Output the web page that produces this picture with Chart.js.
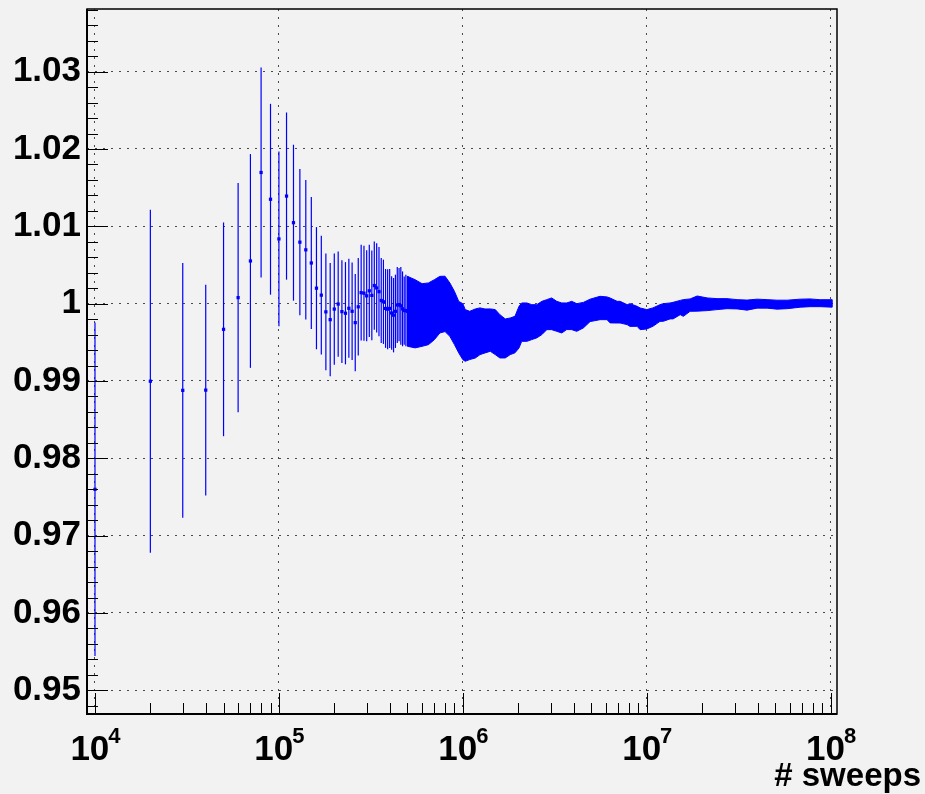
<!DOCTYPE html>
<html><head><meta charset="utf-8">
<script src="https://cdn.jsdelivr.net/npm/chart.js@4.4.0/dist/chart.umd.min.js"></script>
<style>html,body{margin:0;padding:0;background:#f2f2f2;}canvas{display:block;}</style>
</head><body>
<canvas id="c" width="925" height="794"></canvas>
<script>
// ---- axis / tick data ----
const xTickValues = [1e4, 1e5, 1e6, 1e7, 1e8];
const xTickExp = ['4', '5', '6', '7', '8'];
const yTickValues = [0.95, 0.96, 0.97, 0.98, 0.99, 1.00, 1.01, 1.02, 1.03];
const xTitle = '# sweeps';
const X_MIN = 9048, X_MAX = 1.082e8, Y_MIN = 0.94694, Y_MAX = 1.0381;

// ---- individually visible points (sweeps, value, error) ----
const sparseX = [1e4,2e4,3e4,4e4,5e4,6e4,7e4,8e4,9e4,1e5,1.1e5,1.2e5,1.3e5,1.4e5,1.5e5,1.6e5,1.7e5,1.8e5,1.9e5,2e5,
  2.1e5,2.2e5,2.3e5,2.4e5,2.5e5,2.6e5,2.7e5,2.8e5,2.9e5,3e5,3.1e5,3.2e5,3.3e5,3.4e5,3.5e5,3.6e5,3.7e5,3.8e5,3.9e5,4e5,
  4.1e5,4.2e5,4.3e5,4.4e5,4.5e5,4.6e5,4.7e5,4.8e5,4.9e5,5e5];
const sparseY = [0.97599,0.98997,0.98879,0.98882,0.99668,1.00078,1.00552,1.01696,1.01350,1.00837,1.01391,1.01047,1.00795,1.00696,1.00526,1.00200,1.00110,0.99894,0.99793,0.99930,
  0.99995,0.99897,0.99876,0.99940,0.99901,0.99755,0.99959,1.00142,1.00135,1.00101,1.00166,1.00107,1.00234,1.00203,1.00155,1.00041,1.00024,0.99938,0.99929,0.99938,
  0.99879,0.99851,0.99901,0.99983,0.99987,0.99972,0.99933,0.99911,0.99911,0.99901];
const sparseErr = [0.02156,0.02218,0.01647,0.01363,0.01382,0.01482,0.01382,0.01357,0.01234,0.01130,0.01081,0.01008,0.00946,0.00902,0.00853,0.00790,0.00769,0.00756,0.00733,0.00720,
  0.00680,0.00663,0.00661,0.00641,0.00630,0.00630,0.00631,0.00620,0.00614,0.00588,0.00596,0.00581,0.00570,0.00577,0.00577,0.00549,0.00545,0.00510,0.00517,0.00510,
  0.00474,0.00481,0.00474,0.00491,0.00474,0.00502,0.00484,0.00441,0.00463,0.00452];

// ---- dense band, sampled (sweeps, value, error) ----
const bandX = [5e5,5.5e5,6e5,6.5e5,7e5,7.5e5,8e5,8.5e5,9e5,9.5e5,1e6,1.03e6,1.09e6,1.17e6,1.24e6,1.32e6,1.41e6,1.5e6,1.59e6,1.7e6,1.81e6,1.92e6,
  2.02e6,2.09e6,2.23e6,2.37e6,2.52e6,2.69e6,2.86e6,3.04e6,3.24e6,3.45e6,3.67e6,3.91e6,4.16e6,4.52e6,4.92e6,5.57e6,6.08e6,6.32e6,6.9e6,7.16e6,
  7.82e6,8.11e6,8.86e6,9.2e6,1e7,1.08e7,1.18e7,1.23e7,1.34e7,1.39e7,1.52e7,1.58e7,1.72e7,1.88e7,2.13e7,2.41e7,2.73e7,3.1e7,3.51e7,3.98e7,
  4.51e7,5.11e7,5.8e7,6.82e7,7.73e7,8.76e7,1e8];
const bandY = [0.99901,0.99869,0.99853,0.99869,0.99922,0.99987,0.99997,0.99922,0.99815,0.99696,0.99638,0.99589,0.99589,0.99615,0.99643,0.99647,0.99658,0.99632,0.99578,0.99550,0.99578,0.99600,
  0.99696,0.99761,0.99761,0.99761,0.99772,0.99815,0.99858,0.99869,0.99836,0.99815,0.99837,0.99847,0.99821,0.99851,0.99913,0.99944,0.99940,0.99912,0.99890,0.99890,
  0.99858,0.99853,0.99836,0.99804,0.99798,0.99826,0.99879,0.99886,0.99906,0.99910,0.99950,0.99944,0.99981,1.00001,0.99992,0.99994,1.00000,0.99992,0.99981,1.00000,
  0.99997,0.99987,0.99990,1.00006,1.00011,1.00006,1.00003];
const bandErr = [0.00452,0.00441,0.00405,0.00399,0.00388,0.00366,0.00358,0.00345,0.00344,0.00333,0.00362,0.00334,0.00312,0.00317,0.00302,0.00284,0.00274,0.00291,0.00280,0.00252,0.00237,0.00236,
  0.00269,0.00248,0.00248,0.00226,0.00215,0.00215,0.00194,0.00205,0.00194,0.00194,0.00172,0.00183,0.00179,0.00165,0.00145,0.00151,0.00147,0.00161,0.00140,0.00140,
  0.00129,0.00147,0.00129,0.00140,0.00125,0.00119,0.00108,0.00114,0.00103,0.00107,0.00092,0.00108,0.00080,0.00098,0.00082,0.00071,0.00065,0.00060,0.00065,0.00058,
  0.00055,0.00058,0.00055,0.00052,0.00050,0.00045,0.00048];

const BLUE = '#0000ff';
const FONT = '"Liberation Sans", Arial, Helvetica, sans-serif';

const errorBars = {
  id: 'errorBars',
  beforeDatasetsDraw(chart) {
    const {ctx, chartArea: a, scales: {x, y}} = chart;
    ctx.save();
    ctx.beginPath(); ctx.rect(a.left, a.top, a.right - a.left, a.bottom - a.top); ctx.clip();
    ctx.strokeStyle = BLUE; ctx.lineWidth = 1.2;
    sparseX.forEach((v, i) => {
      const px = x.getPixelForValue(v);
      ctx.beginPath();
      ctx.moveTo(px, y.getPixelForValue(sparseY[i] + sparseErr[i]));
      ctx.lineTo(px, y.getPixelForValue(sparseY[i] - sparseErr[i]));
      ctx.stroke();
    });
    // dense band: envelope of the overlapping error bars
    const n = bandX.length;
    const pxs = bandX.map(v => x.getPixelForValue(v));
    ctx.fillStyle = BLUE; ctx.strokeStyle = BLUE; ctx.lineWidth = 1; ctx.lineJoin = 'miter';
    ctx.beginPath();
    for (let i = 0; i < n; i++) {
      const py = y.getPixelForValue(bandY[i] + bandErr[i]);
      const px = i === n - 1 ? pxs[i] + 1.5 : pxs[i];
      if (i === 0) ctx.moveTo(px, py); else ctx.lineTo(px, py);
    }
    for (let i = n - 1; i >= 0; i--) {
      const py = y.getPixelForValue(bandY[i] - bandErr[i]);
      const px = i === n - 1 ? pxs[i] + 1.5 : pxs[i];
      ctx.lineTo(px, py);
    }
    ctx.closePath();
    ctx.fill(); ctx.stroke();
    ctx.restore();
  }
};

const frameAndTicks = {
  id: 'frameAndTicks',
  afterDraw(chart) {
    const {ctx, chartArea: a, scales: {x, y}} = chart;
    ctx.save();
    ctx.strokeStyle = '#000'; ctx.fillStyle = '#000';
    ctx.lineWidth = 1;
    for (let i = 474; i <= 519; i++) {
      const v = i / 500, py = Math.round(y.getPixelForValue(v)) + 0.5;
      const len = (i % 5 === 0) ? 21 : 11;
      ctx.beginPath(); ctx.moveTo(a.left, py); ctx.lineTo(a.left + len, py); ctx.stroke();
    }
    for (let d = 3; d <= 8; d++) {
      for (let m = 1; m <= 9; m++) {
        const v = m * Math.pow(10, d);
        if (v < X_MIN || v > X_MAX) continue;
        const px = Math.round(x.getPixelForValue(v)) + 0.5;
        const len = m === 1 ? 21 : 11;
        ctx.beginPath(); ctx.moveTo(px, a.bottom); ctx.lineTo(px, a.bottom - len); ctx.stroke();
      }
    }
    ctx.lineWidth = 1.5;
    ctx.strokeRect(a.left, a.top, a.right - a.left, a.bottom - a.top);
    ctx.lineWidth = 2;
    ctx.beginPath(); ctx.moveTo(a.left, a.top); ctx.lineTo(a.left, a.bottom); ctx.lineTo(a.right, a.bottom); ctx.stroke();
    // x tick labels 10^n
    const F1 = 'bold 35px ' + FONT, F2 = 'bold 22px ' + FONT;
    xTickValues.forEach((v, i) => {
      const px = x.getPixelForValue(v);
      ctx.font = F1; const w1 = ctx.measureText('10').width;
      ctx.font = F2; const w2 = ctx.measureText(xTickExp[i]).width;
      const start = px + 0.5 - (w1 + w2 - 1) / 2;
      ctx.textBaseline = 'alphabetic'; ctx.textAlign = 'left';
      ctx.font = F1; ctx.fillText('10', start, 760);
      ctx.font = F2; ctx.fillText(xTickExp[i], start + w1 - 1, 743);
    });
    ctx.font = 'bold 33px ' + FONT; ctx.textAlign = 'right'; ctx.textBaseline = 'alphabetic';
    ctx.fillText(xTitle, 921, 786);
    ctx.restore();
  }
};

new Chart(document.getElementById('c'), {
  type: 'scatter',
  data: {
    datasets: [
      { label: 'points', data: sparseX.map((v, i) => ({x: v, y: sparseY[i]})),
        pointStyle: 'rect', pointRadius: 2.3, pointBackgroundColor: BLUE, pointBorderWidth: 0, showLine: false },
      { label: 'band', data: bandX.map((v, i) => ({x: v, y: bandY[i]})),
        pointRadius: 0, showLine: false }
    ]
  },
  options: {
    responsive: false, animation: false, devicePixelRatio: 1,
    layout: { padding: { left: 0, right: 88, top: 9, bottom: 0 } },
    plugins: { legend: { display: false }, tooltip: { enabled: false } },
    scales: {
      x: {
        type: 'logarithmic', min: X_MIN, max: X_MAX, bounds: 'data',
        afterBuildTicks: s => { s.ticks = xTickValues.map(v => ({value: v})); },
        afterFit: s => { s.height = 80; s.paddingLeft = 0; s.paddingRight = 0; },
        ticks: { display: false },
        grid: { color: '#4a4a4a', lineWidth: 1, drawTicks: false },
        border: { display: false, dash: [2, 6] }
      },
      y: {
        type: 'linear', min: Y_MIN, max: Y_MAX, bounds: 'data',
        afterBuildTicks: s => { s.ticks = yTickValues.map(v => ({value: v})); },
        afterFit: s => { s.width = 87; s.paddingTop = 0; s.paddingBottom = 0; },
        ticks: { autoSkip: false, color: '#000', padding: 6,
          font: { family: FONT, weight: 'bold', size: 35 },
          callback: v => String(+Number(v).toFixed(2)) },
        grid: { color: '#4a4a4a', lineWidth: 1, drawTicks: false },
        border: { display: false, dash: [2, 6] }
      }
    }
  },
  plugins: [errorBars, frameAndTicks]
});
</script>
</body></html>
